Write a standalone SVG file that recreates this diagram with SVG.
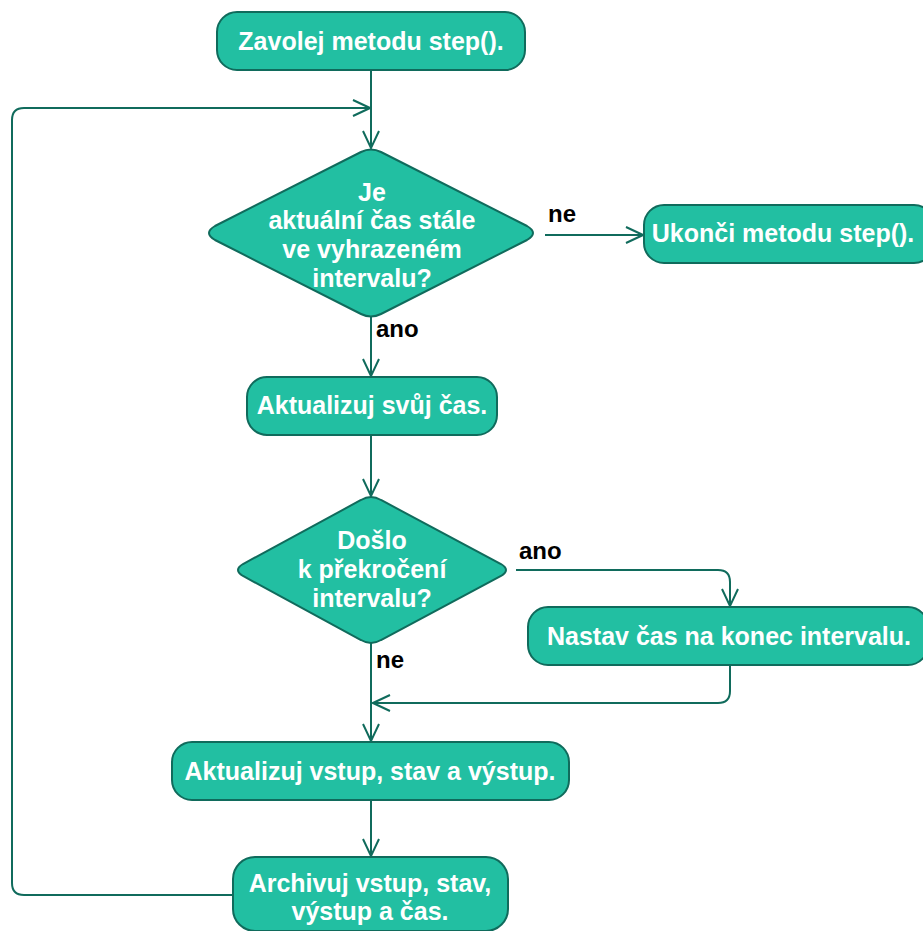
<svg xmlns="http://www.w3.org/2000/svg" width="923" height="931" viewBox="0 0 923 931">
  <style>
    .box { fill: #22bfa2; stroke: #106b5c; stroke-width: 2; }
    .t { font-family: "Liberation Sans", Arial, sans-serif; font-weight: bold; font-size: 25px; fill: #ffffff; text-anchor: middle; }
    .lbl { font-family: "Liberation Sans", Arial, sans-serif; font-weight: bold; font-size: 24px; fill: #000000; }
    .edge { fill: none; stroke: #106b5c; stroke-width: 2; marker-end: url(#arrow); }
  </style>
  <defs>
    <marker id="arrow" viewBox="0 0 19 18" refX="18" refY="9" markerWidth="19" markerHeight="18" markerUnits="userSpaceOnUse" orient="auto">
      <path d="M1,1 L18,9 L1,17" fill="none" stroke="#106b5c" stroke-width="2"/>
    </marker>
  </defs>
  <rect width="923" height="931" fill="#ffffff"/>

  <g id="connectors">
    <path class="edge" d="M371,70 V148"/>
    <path class="edge" d="M233,895 H24 Q12,895 12,883 V120 Q12,108 24,108 H370"/>
    <path class="edge" d="M545,235 H643"/>
    <path class="edge" d="M371,316 V376"/>
    <path class="edge" d="M371,435 V496"/>
    <path class="edge" d="M516,570 H718 Q730,570 730,582 V606"/>
    <path class="edge" d="M730,665 V691 Q730,703 718,703 H373"/>
    <path class="edge" d="M371,643 V741"/>
    <path class="edge" d="M371,800 V856"/>
  </g>

  <g id="start">
    <rect class="box" x="217" y="12" width="308" height="58" rx="20"/>
    <text class="t" x="371" y="50">Zavolej metodu step().</text>
  </g>

  <g id="check-interval">
    <path class="box" d="M361,152 Q371,147 381,152 L527,226 Q539,233 527,240 L381,314 Q371,319 361,314 L215,240 Q203,233 215,226 Z"/>
    <text class="t" x="372" y="201">Je</text>
    <text class="t" x="372" y="229">aktuální čas stále</text>
    <text class="t" x="372" y="258">ve vyhrazeném</text>
    <text class="t" x="372" y="287">intervalu?</text>
  </g>
  <text class="lbl" x="376" y="337">ano</text>
  <text class="lbl" x="548" y="222">ne</text>

  <g id="end">
    <rect class="box" x="644" y="205" width="290" height="58" rx="20"/>
    <text class="t" x="783" y="242">Ukonči metodu step().</text>
  </g>

  <g id="update-time">
    <rect class="box" x="247" y="377" width="250" height="58" rx="20"/>
    <text class="t" x="372" y="414">Aktualizuj svůj čas.</text>
  </g>

  <g id="check-overflow">
    <path class="box" d="M361,500 Q371,494 381,500 L501,564 Q511,570 501,576 L381,640 Q371,646 361,640 L243,576 Q233,570 243,564 Z"/>
    <text class="t" x="372" y="549">Došlo</text>
    <text class="t" x="372" y="578">k překročení</text>
    <text class="t" x="372" y="607">intervalu?</text>
  </g>
  <text class="lbl" x="519" y="559">ano</text>
  <text class="lbl" x="376" y="668">ne</text>

  <g id="clamp-time">
    <rect class="box" x="528" y="607" width="400" height="58" rx="20"/>
    <text class="t" x="729" y="645">Nastav čas na konec intervalu.</text>
  </g>

  <g id="update-io">
    <rect class="box" x="172" y="742" width="397" height="58" rx="20"/>
    <text class="t" x="370" y="780">Aktualizuj vstup, stav a výstup.</text>
  </g>

  <g id="archive">
    <rect class="box" x="233" y="857" width="275" height="74" rx="22"/>
    <text class="t" x="370" y="892">Archivuj vstup, stav,</text>
    <text class="t" x="370" y="920">výstup a čas.</text>
  </g>
</svg>
